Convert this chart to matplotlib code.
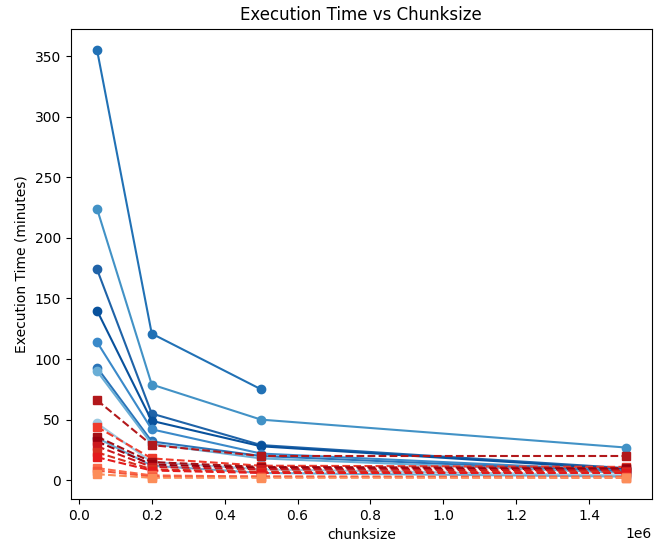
import numpy as np
import matplotlib.pyplot as plt

# chunksizes tested
chunksizes = [50000, 200000, 500000, 1500000]

# execution times (minutes), solid blue runs
blue_times = [
    [355, 121, 75, np.nan],
    [224, 79, 50, 27],
    [174, 55, 29, 10],
    [140, 49, 28, 9],
    [114, 42, 22, 8],
    [93, 32, 20, 7],
    [90, 30, 18, 6],
    [47, 15, 9, 4],
    [35, 12, 6, 3],
]
blue_colors = ['#2171b5', '#4292c6', '#1f63a8', '#08519c', '#3a89c9',
               '#2a74b8', '#6aaed6', '#9ecae1', '#6baed6']

# execution times (minutes), dashed red runs
red_times = [
    [66, 29, 20, 20],
    [44, 18, 12, 11],
    [36, 15, 11, 10],
    [32, 13, 10, 9],
    [28, 11, 9, 8],
    [23, 9, 7, 7],
    [19, 8, 6, 6],
    [10, 4, 3, 3],
    [8, 3, 3, 2],
    [5, 2, 2, 2],
]
red_colors = ['#b2181b', '#ef3b2c', '#a50f15', '#99000d', '#cb181d',
              '#d7301f', '#e31a1c', '#fb6a4a', '#f4543a', '#fc8d59']

fig, ax = plt.subplots(figsize=(6.54, 5.42), dpi=100)
fig.subplots_adjust(left=0.108, right=0.997, top=0.947, bottom=0.079)

for t, c in zip(blue_times, blue_colors):
    ax.plot(chunksizes, t, '-o', color=c)

for t, c in zip(red_times, red_colors):
    ax.plot(chunksizes, t, '--s', color=c)

ax.set_title('Execution Time vs Chunksize')
ax.set_xlabel('chunksize')
ax.set_ylabel('Execution Time (minutes)')

fig.savefig('out.png')
